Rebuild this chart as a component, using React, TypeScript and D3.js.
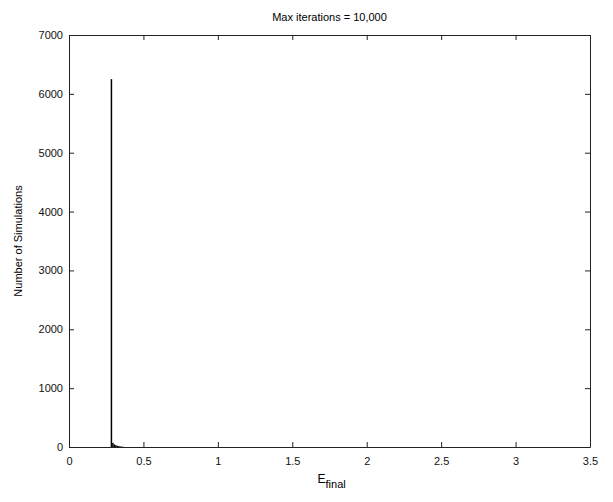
import * as d3 from 'd3'
import { useEffect, useRef } from 'react'

// histogram bins (left edge) and counts
const binStarts = [0.28, 0.29, 0.30, 0.31, 0.32, 0.33, 0.34, 0.35, 0.36]
const counts = [6250, 70, 45, 30, 20, 15, 10, 6, 4]
const binWidth = 0.01
const xTicks = [0, 0.5, 1, 1.5, 2, 2.5, 3, 3.5]
const yTicks = [0, 1000, 2000, 3000, 4000, 5000, 6000, 7000]

export default function App() {
  const ref = useRef<SVGSVGElement>(null)

  useEffect(() => {
    const svg = d3.select(ref.current)
    svg.selectAll('*').remove()
    const width = 613
    const height = 502
    const margin = { top: 35, right: 23, bottom: 55, left: 69 }
    const font = 'Liberation Sans, Arial, sans-serif'

    const x = d3.scaleLinear().domain([0, 3.5]).range([margin.left, width - margin.right])
    const y = d3.scaleLinear().domain([0, 7000]).range([height - margin.bottom, margin.top])

    svg.append('rect').attr('width', width).attr('height', height).attr('fill', '#fff')

    // bars
    svg.append('g')
      .selectAll('rect')
      .data(binStarts.map((b, i) => ({ b, c: counts[i] })))
      .join('rect')
      .attr('x', (d) => x(d.b))
      .attr('width', (d) => Math.max(1.2, x(d.b + binWidth) - x(d.b)))
      .attr('y', (d) => y(d.c))
      .attr('height', (d) => y(0) - y(d.c))
      .attr('fill', '#000')

    const tick = 5
    const fmt = (d: d3.NumberValue) => String(+d)
    // bottom axis, ticks inward
    const xAxis = svg.append('g').attr('transform', `translate(0,${y(0)})`)
      .call(d3.axisBottom(x).tickValues(xTicks).tickSizeInner(-tick).tickSizeOuter(0).tickPadding(10)
        .tickFormat(fmt))
    const topAxis = svg.append('g').attr('transform', `translate(0,${y(7000)})`)
      .call(d3.axisTop(x).tickValues(xTicks).tickSizeInner(-tick).tickSizeOuter(0).tickFormat(() => ''))
    const yAxis = svg.append('g').attr('transform', `translate(${x(0)},0)`)
      .call(d3.axisLeft(y).tickValues(yTicks).tickSizeInner(-tick).tickSizeOuter(0).tickPadding(6)
        .tickFormat(fmt))
    const rightAxis = svg.append('g').attr('transform', `translate(${x(3.5)},0)`)
      .call(d3.axisRight(y).tickValues(yTicks).tickSizeInner(-tick).tickSizeOuter(0).tickFormat(() => ''))

    for (const g of [xAxis, topAxis, yAxis, rightAxis]) {
      g.selectAll('.domain').attr('stroke', '#222')
      g.selectAll('.tick line').attr('stroke', '#222')
      g.selectAll('text').attr('font-family', font).attr('font-size', 11).attr('fill', '#111')
    }

    svg.append('text')
      .attr('x', (x(0) + x(3.5)) / 2).attr('y', 21)
      .attr('text-anchor', 'middle')
      .attr('font-family', font).attr('font-size', 11)
      .text('Max iterations = 10,000')

    const xl = svg.append('text')
      .attr('x', (x(0) + x(3.5)) / 2 - 12).attr('y', 483)
      .attr('font-family', font).attr('font-size', 12)
    xl.append('tspan').text('E')
    xl.append('tspan').attr('dy', 5).attr('font-size', 11).text('final')

    svg.append('text')
      .attr('transform', `translate(22,${(y(0) + y(7000)) / 2}) rotate(-90)`)
      .attr('text-anchor', 'middle')
      .attr('font-family', font).attr('font-size', 11)
      .text('Number of Simulations')
  }, [])

  return (
    <svg ref={ref} width={613} height={502} style={{ position: 'absolute', left: 0, top: 0 }} />
  )
}
